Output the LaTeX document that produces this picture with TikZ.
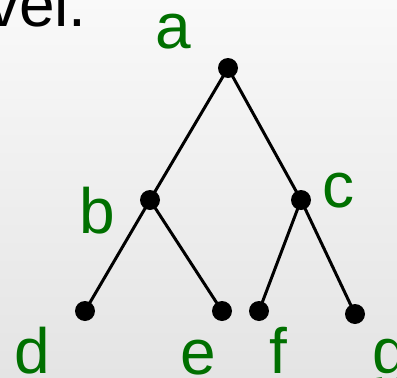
\documentclass[tikz,border=0pt]{standalone}
\usepackage{fontspec}
\setmainfont{Liberation Sans}
\usepackage{tikz}
\usetikzlibrary{positioning}
\definecolor{leafgreen}{RGB}{0,112,0}
\definecolor{bgtop}{RGB}{249,249,249}
\definecolor{bgbottom}{RGB}{228,228,228}

\begin{document}
\begin{tikzpicture}[x=1pt, y=-1pt,
            dot/.style={circle, fill=black, inner sep=0pt, minimum size=20pt},
            lbl/.style={text=leafgreen, font=\fontsize{64}{64}\selectfont, anchor=base, inner sep=0pt},
            edge/.style={draw=black, line width=3pt}]
            % background
            \shade[top color=bgtop, bottom color=bgbottom] (0,0) rectangle (397,378);
            \useasboundingbox (0,0) rectangle (397,378);
            \node [anchor=base east, inner sep=0pt, font=\fontsize{64}{64}\selectfont] (prev) at (87,26) {vel.};
            % the tree
            \node [dot] (a) at (228,68) {};
            \node [dot] (b) at (150,200) {};
            \node [dot] (c) at (301,200) {};
            \node [dot] (d) at (85,311) {};
            \node [dot] (e) at (222,311) {};
            \node [dot] (f) at (259,311) {};
            \node [dot] (g) at (355,314) {};
            \draw [edge] (a.center) -- (b.center) (a.center) -- (c.center);
            \draw [edge] (b.center) -- (d.center) (b.center) -- (e.center);
            \draw [edge] (c.center) -- (f.center) (c.center) -- (g.center);
            \node [lbl] (la) at (173,48) {a};
            \node [lbl] (lb) at (97,233) {b};
            \node [lbl] (lc) at (338,207) {c};
            \node [lbl] (ld) at (32,373) {d};
            \node [lbl] (le) at (198,374) {e};
            \node [lbl] (lf) at (278,373) {f};
            \node [lbl] (lg) at (390,373) {g};
        \end{tikzpicture}
\end{document}
